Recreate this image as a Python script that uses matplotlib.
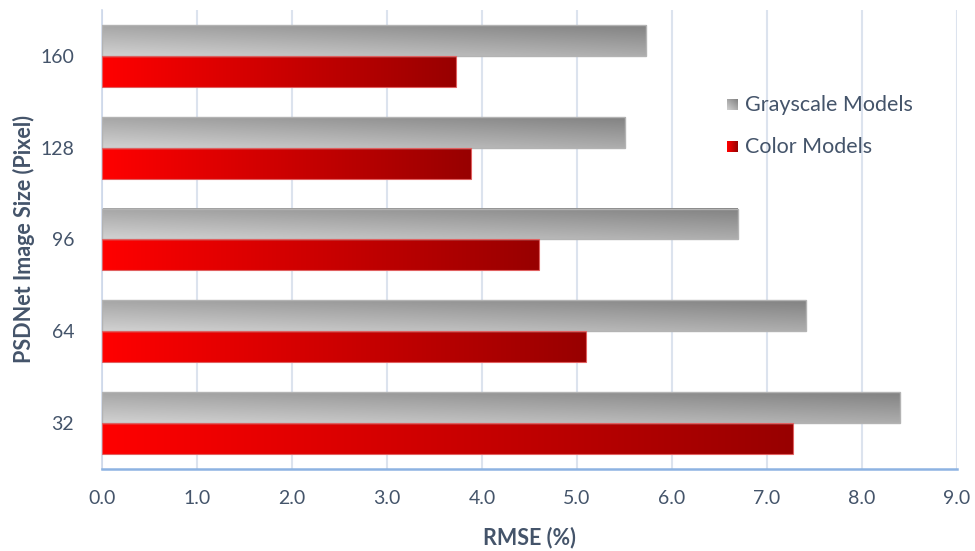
import numpy as np
import matplotlib
matplotlib.use("Agg")
import matplotlib.pyplot as plt
from matplotlib.colors import to_rgb

plt.rcParams['font.family'] = ['Lato', 'DejaVu Sans']

sizes = ["32", "64", "96", "128", "160"]
gray_rmse = [8.40, 7.41, 6.69, 5.51, 5.73]
color_rmse = [7.27, 5.10, 4.60, 3.88, 3.73]

txt = "#44546a"
bar_h = 0.337


def gray_grad(n=200):
    # light lower-left corner, dark upper-right corner
    tx = np.linspace(0, 1, n)[None, :]
    ty = np.linspace(0, 1, 40)[:, None]  # row 0 at bottom (origin='lower')
    v = 0.82 - 0.14 * tx - 0.17 * ty
    return np.dstack([v, v, v])


def red_grad(n=200):
    c0 = np.array(to_rgb("#ff0000"))
    c1 = np.array(to_rgb("#980000"))
    t = np.linspace(0, 1, n)[None, :, None]
    row = c0 + (c1 - c0) * t
    return np.repeat(row, 2, axis=0)


fig = plt.figure(figsize=(9.75, 5.51), dpi=100)
ax = fig.add_axes([0.1046, 0.1488, 0.8769, 0.8331])

y = np.arange(len(sizes))
gb = ax.barh(y + bar_h / 2, gray_rmse, height=bar_h, facecolor="none",
             edgecolor="#b3b3b3", linewidth=1.0, zorder=3)
rb = ax.barh(y - bar_h / 2, color_rmse, height=bar_h, facecolor="none",
             edgecolor="#e06060", linewidth=0.8, zorder=3)

for p in gb.patches:
    x0, y0 = p.get_x(), p.get_y()
    ax.imshow(gray_grad(), extent=[x0, x0 + p.get_width(), y0, y0 + p.get_height()],
              origin="lower", aspect="auto", interpolation="bilinear", zorder=2)
for p in rb.patches:
    x0, y0 = p.get_x(), p.get_y()
    ax.imshow(red_grad(), extent=[x0, x0 + p.get_width(), y0, y0 + p.get_height()],
              origin="lower", aspect="auto", interpolation="bilinear", zorder=2)

ax.set_xlim(0, 9)
ax.set_ylim(-0.5, len(sizes) - 0.5)
ax.set_xticks(np.arange(0, 9.5, 1.0))
ax.set_xticklabels([f"{v:.1f}" for v in np.arange(0, 9.5, 1.0)])
ax.set_yticks(y)
ax.set_yticklabels(sizes)

ax.grid(axis="x", color="#dce3ee", linewidth=1.5, zorder=0)
ax.set_axisbelow(True)

for s in ["top", "right"]:
    ax.spines[s].set_visible(False)
ax.spines["left"].set_color("#cdd8ea")
ax.spines["left"].set_linewidth(1.2)
ax.spines["bottom"].set_color("#8db3e2")
ax.spines["bottom"].set_linewidth(1.8)

ax.tick_params(axis="both", length=0, labelsize=14, colors=txt)
ax.tick_params(axis="x", pad=15)
ax.tick_params(axis="y", pad=20)

ax.set_xlabel("RMSE (%)", fontsize=15.5, fontweight="bold", color=txt, labelpad=14)
ax.set_ylabel("PSDNet Image Size (Pixel)", fontsize=15.5, fontweight="bold", color=txt, labelpad=4)

# legend drawn by hand so the swatches carry the same gradients
sw = 0.0117
sh = 0.011
lx = 0.731
for yy, img, label in [(0.793, gray_grad(20), "Grayscale Models"),
                       (0.7015, red_grad(20), "Color Models")]:
    ax.imshow(img, extent=[lx, lx + sw, yy - sh, yy + sh], origin="lower",
              transform=ax.transAxes, aspect="auto", interpolation="bilinear", zorder=4)
    ax.text(lx + sw + 0.009, yy, label, transform=ax.transAxes, fontsize=15.5,
            color=txt, va="center", ha="left")

ax.set_xlim(0, 9)
ax.set_ylim(-0.5, len(sizes) - 0.5)

fig.savefig("out.png", dpi=100)
